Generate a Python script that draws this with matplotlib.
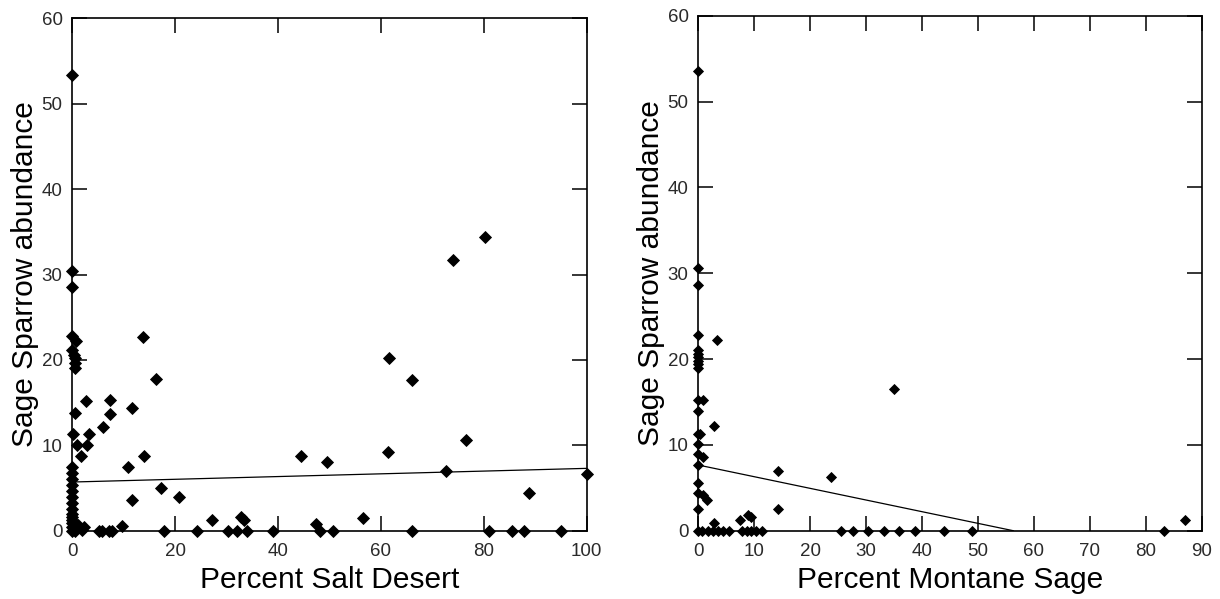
import matplotlib
matplotlib.use("Agg")
import matplotlib.pyplot as plt

plt.rcParams['font.family'] = ['Liberation Sans', 'DejaVu Sans']

# ---------------- data ----------------
# Left panel: Percent Salt Desert vs Sage Sparrow abundance
salt_x = [0, 0, 0, 0, 0.7, 0, 0.3, 0.5, 0.6, 0.6,
          13.7, 16.3, 2.7, 7.4, 11.6, 0.6, 7.4, 5.9, 0.1, 3.3,
          0.9, 2.9, 1.7, 13.9, 10.8,
          0, 0, 0, 0, 0, 0, 0, 0, 0, 0, 0, 0, 0, 0,
          17.2, 20.7, 11.6, 9.7, 1.2, 1.9, 0.5, 2.2, 0.3,
          5.1, 5.8, 7.1, 7.7, 17.8,
          44.5, 49.6, 61.4, 66.0, 61.6,
          27.1, 32.7, 33.3, 24.2, 30.2, 32.1, 33.9, 39.1,
          47.4, 48.2, 50.6, 56.5, 66.0,
          76.5, 72.6, 100.0, 88.7, 81.0, 85.4, 87.8, 95.1,
          74.0, 80.2]
salt_y = [53.4, 30.4, 28.5, 22.8, 22.2, 21.2, 20.6, 20.2, 19.6, 19.0,
          22.7, 17.8, 15.2, 15.3, 14.4, 13.8, 13.7, 12.1, 11.3, 11.3,
          10.0, 10.0, 8.8, 8.7, 7.5,
          7.5, 6.8, 6.1, 5.4, 4.65, 4.0, 3.2, 2.5, 2.0, 1.6, 1.25, 0.87, 0.47, 0,
          5.0, 3.9, 3.6, 0.6, 0.67, 0.1, 0, 0.47, 0.2,
          0, 0, 0, 0, 0,
          8.75, 8.1, 9.25, 17.7, 20.2,
          1.2, 1.6, 1.3, 0, 0, 0, 0, 0,
          0.8, 0, 0, 1.5, 0,
          10.6, 7.0, 6.6, 4.4, 0, 0, 0, 0,
          31.7, 34.4]
salt_fit_x = [0, 100]
salt_fit_y = [5.7, 7.3]

# Right panel: Percent Montane Sage vs Sage Sparrow abundance
mont_x = [0, 0, 0, 0, 3.4,
          0, 0, 0, 0, 0, 0,
          0, 0.9, 0, 2.8, 0, 0.3, 0, 0, 0.9, 0,
          14.2, 0, 0, 0.9, 1.5, 14.3, 0,
          7.5, 8.9, 9.5, 2.8,
          0, 0.6, 1.8, 2.7, 3.6, 4.5, 5.4, 7.8, 8.7, 9.5, 10.4, 11.3,
          34.9, 23.8,
          25.5, 27.6, 30.3, 33.2, 35.9, 38.7, 43.9, 49.0, 83.3,
          87.1]
mont_y = [53.5, 30.6, 28.6, 22.8, 22.2,
          21.05, 20.6, 20.2, 19.8, 19.4, 18.9,
          15.2, 15.2, 13.9, 12.2, 11.3, 11.3, 10.07, 8.9, 8.6, 7.65,
          6.95, 5.5, 4.35, 4.15, 3.6, 2.5, 2.5,
          1.25, 1.8, 1.6, 0.85,
          0, 0, 0, 0, 0, 0, 0, 0, 0, 0, 0, 0,
          16.5, 6.3,
          0, 0, 0, 0, 0, 0, 0, 0, 0,
          1.25]
mont_fit_x = [0, 56.3]
mont_fit_y = [7.65, 0]

salt_xticks = [0, 20, 40, 60, 80, 100]
mont_xticks = [0, 10, 20, 30, 40, 50, 60, 70, 80, 90]
yticks = [0, 10, 20, 30, 40, 50, 60]

# ---------------- figure ----------------
W, H = 1220, 599
fig = plt.figure(figsize=(W / 100, H / 100), dpi=100)

ax1 = fig.add_axes([72.3 / W, (H - 530.7) / H, (586.7 - 72.3) / W, (530.7 - 18.3) / H])
ax2 = fig.add_axes([698.3 / W, (H - 530.7) / H, (1201.7 - 698.3) / W, (530.7 - 15.7) / H])


def style(ax, xs, ys, fx, fy, xticks, xmax, ms, xlabel):
    ax.plot(fx, fy, color='black', lw=0.9, zorder=2)
    ax.plot(xs, ys, linestyle='none', marker='D', ms=ms, color='black',
            mec='black', mew=0.6, clip_on=False, zorder=3)
    ax.set_xlim(0, xmax)
    ax.set_ylim(0, 60)
    ax.set_xticks(xticks)
    ax.set_yticks(yticks)
    ax.tick_params(direction='in', length=10.5, width=1.1, top=True, right=True,
                   labelsize=13.5, labelcolor='#2a2a2a', pad=7)
    ax.tick_params(axis='x', pad=9)
    for s in ax.spines.values():
        s.set_linewidth(1.2)
    ax.set_xlabel(xlabel, fontsize=21.5, labelpad=4)
    ax.set_ylabel('Sage Sparrow abundance', fontsize=21.5, labelpad=2)


style(ax1, salt_x, salt_y, salt_fit_x, salt_fit_y, salt_xticks, 100, 5.7,
      'Percent Salt Desert')
style(ax2, mont_x, mont_y, mont_fit_x, mont_fit_y, mont_xticks, 90, 4.8,
      'Percent Montane Sage')

fig.savefig('out.png', dpi=100)
